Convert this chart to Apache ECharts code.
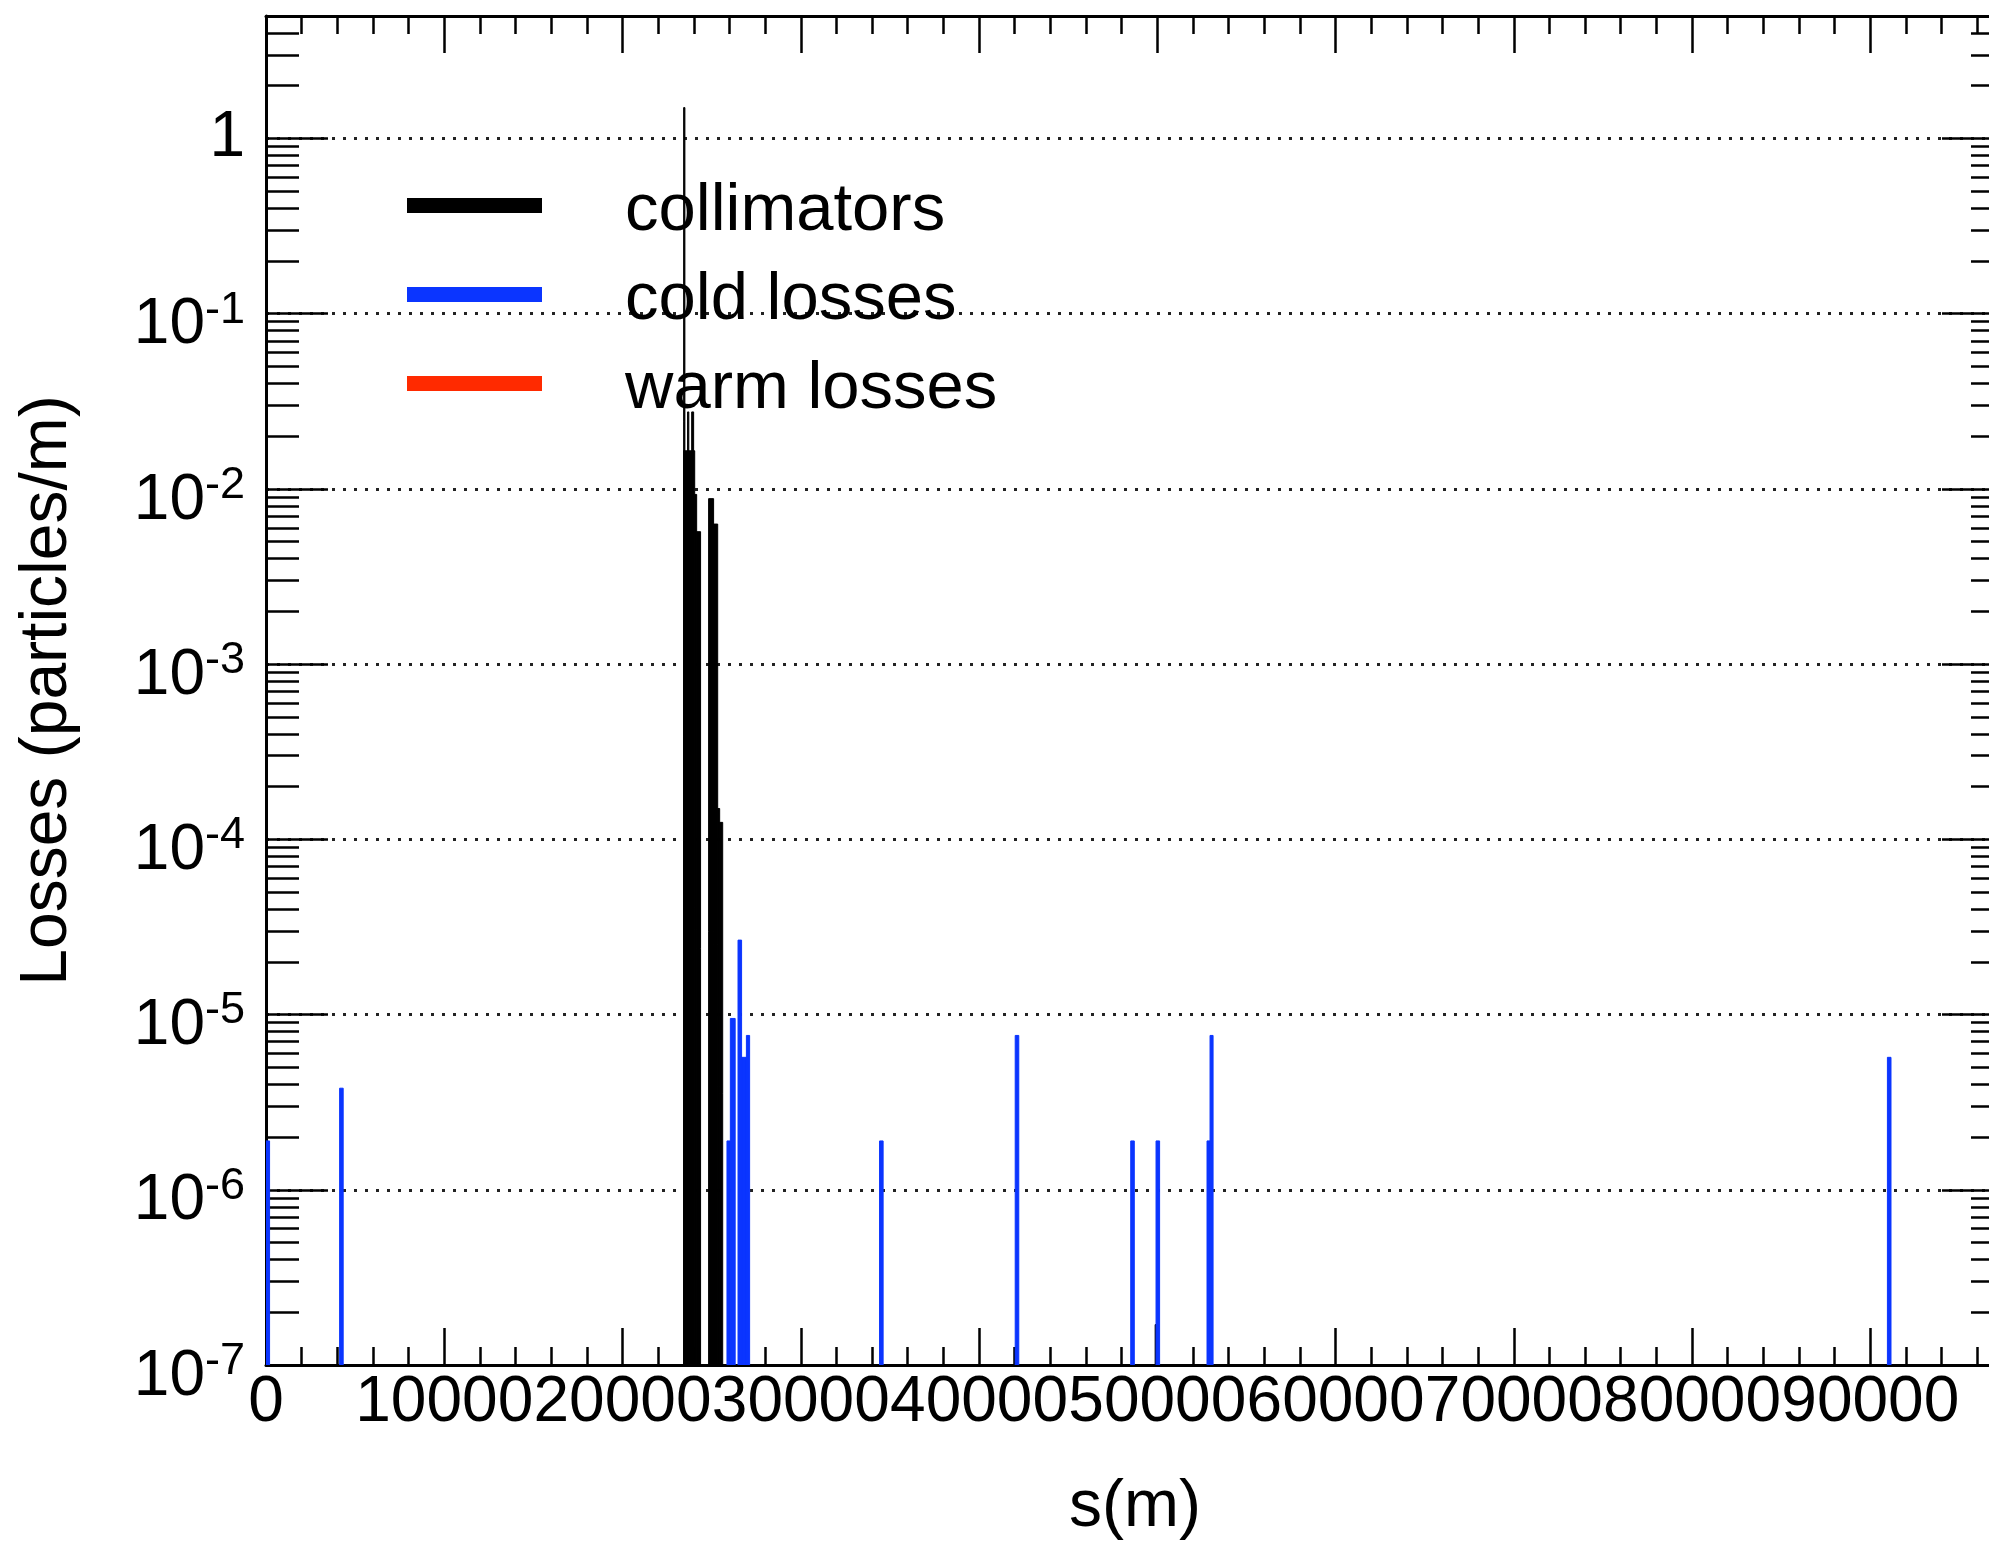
<!DOCTYPE html>
<html>
<head>
<meta charset="utf-8">
<script src="https://cdn.jsdelivr.net/npm/echarts@6/dist/echarts.min.js"></script>
<style>
  html, body { margin: 0; padding: 0; background: #ffffff; }
  #chart { width: 1989px; height: 1545px; }
</style>
</head>
<body>
<div id="chart"></div>
<script>
// Beam loss map along the ring: losses per metre in each histogram bin.
// Each bin is given by its start and end position s (m) and its loss value.

const collimatorStart = [23430, 23430, 23650, 23880, 24050, 24160, 24830, 25110, 25340, 25450, 49880];
const collimatorEnd   = [23500, 24050, 23720, 23990, 24160, 24380, 25110, 25340, 25450, 25620, 49940];
const collimatorLoss  = [1.5, 0.0165, 0.0275, 0.0275, 0.0093, 0.0057, 0.0088, 0.0063, 1.5e-4, 1.25e-4, 1.7e-7];

const coldStart = [0, 4130, 25860, 26050, 26480, 26680, 26950, 34420, 42030, 48510, 49930, 52790, 52960, 90960];
const coldEnd   = [200, 4330, 26050, 26320, 26680, 26950, 27130, 34620, 42230, 48710, 50130, 52960, 53130, 91160];
const coldLoss  = [1.9e-6, 3.8e-6, 1.9e-6, 9.5e-6, 2.66e-5, 5.7e-6, 7.6e-6, 1.9e-6, 7.6e-6, 1.9e-6, 1.9e-6, 1.9e-6, 7.6e-6, 5.7e-6];

const warmStart = [];
const warmEnd   = [];
const warmLoss  = [];

const seriesNames = ['collimators', 'cold losses', 'warm losses'];
const seriesColors = ['#000000', '#0b35ff', '#ff2a00'];

const xTickLabels = [0, 10000, 20000, 30000, 40000, 50000, 60000, 70000, 80000, 90000];
const yTickLabels = [1e-7, 1e-6, 1e-5, 1e-4, 1e-3, 1e-2, 1e-1, 1];

const X_MIN = 0, X_MAX = 97500;
const Y_MIN = 1e-7, Y_MAX = 5;

// minor tick positions: every 2000 m on s, 2..9 per decade on the log axis
const xMinorTicks = [];
for (let s = 2000; s < X_MAX; s += 2000) if (s % 10000 !== 0) xMinorTicks.push(s);
const yMinorTicks = [];
yTickLabels.forEach(function (d) {
  for (let k = 2; k <= 9; k++) { const v = k * d; if (v < Y_MAX) yMinorTicks.push(v); }
});

const FONT = 'Liberation Sans, Arial, Helvetica, sans-serif';
const INK = '#000000';

function binData(starts, ends, vals) {
  return starts.map(function (s, i) { return [s, ends[i], vals[i]]; });
}

function histItem(params, api) {
  const top = api.coord([api.value(0), api.value(2)]);
  const bot = api.coord([api.value(1), Y_MIN]);
  return {
    type: 'rect',
    shape: { x: top[0], y: top[1], width: bot[0] - top[0], height: bot[1] - top[1] },
    style: { fill: api.visual('color'), stroke: api.visual('color'), lineWidth: 1 }
  };
}

function histSeries(idx, data) {
  return {
    name: seriesNames[idx],
    type: 'custom',
    xAxisIndex: 0,
    yAxisIndex: 0,
    renderItem: histItem,
    encode: { x: [0, 1], y: 2 },
    color: seriesColors[idx],
    itemStyle: { color: seriesColors[idx] },
    clip: true,
    silent: true,
    data: data
  };
}

const tickLine = { color: INK, width: 2.5 };

function xAxisBase(position, ticks, len, showLine) {
  return {
    type: 'value', position: position, min: X_MIN, max: X_MAX, interval: 10000,
    axisLine: { show: showLine, onZero: false, lineStyle: { color: INK, width: 3 } },
    axisTick: { show: true, inside: true, length: len, customValues: ticks, lineStyle: tickLine },
    axisLabel: { show: false },
    splitLine: { show: false }
  };
}

function yAxisBase(position, ticks, len, showLine) {
  return {
    type: 'log', logBase: 10, position: position, min: Y_MIN, max: Y_MAX,
    axisLine: { show: showLine, onZero: false, lineStyle: { color: INK, width: 3 } },
    axisTick: { show: true, inside: true, length: len, customValues: ticks, lineStyle: tickLine },
    axisLabel: { show: false },
    splitLine: { show: false }
  };
}

const xMain = xAxisBase('bottom', xTickLabels, 37, true);
xMain.axisLabel = {
  show: true, customValues: xTickLabels, margin: 6,
  fontSize: 64, fontFamily: FONT, color: INK,
  formatter: function (v) { return String(v); }
};
xMain.name = 's(m)';
xMain.nameLocation = 'middle';
xMain.nameGap = 110;
xMain.nameTextStyle = { fontSize: 66, fontFamily: FONT, color: INK };

const yMain = yAxisBase('left', yTickLabels, 62, true);
yMain.axisLabel = {
  show: true, customValues: yTickLabels, margin: 21, fontFamily: FONT, color: INK,
  formatter: function (v) {
    const e = Math.round(Math.log10(v));
    if (e === 0) return '{one|1}';
    return '{b|10}{s|' + String(e) + '}';
  },
  rich: {
    one: { fontSize: 64, fontFamily: FONT, color: INK },
    b: { fontSize: 64, lineHeight: 64, padding: [24, 0, 0, 0], fontFamily: FONT, color: INK },
    s: { fontSize: 45, lineHeight: 45, padding: [6, 0, 0, 0], verticalAlign: 'top', fontFamily: FONT, color: INK }
  }
};
yMain.splitLine = { show: true, lineStyle: { color: '#222222', width: 3, type: [3, 8] } };
yMain.name = 'Losses (particles/m)';
yMain.nameLocation = 'middle';
yMain.nameRotate = 90;
yMain.nameGap = 185;
yMain.nameTextStyle = { fontSize: 66, fontFamily: FONT, color: INK };

const option = {
  animation: false,
  backgroundColor: '#ffffff',
  grid: { left: 266, top: 16, width: 1738, height: 1349, containLabel: false, outerBoundsMode: 'none' },
  legend: {
    orient: 'vertical', left: 402, top: 161,
    icon: 'rect', itemWidth: 135, itemHeight: 15, itemGap: 10,
    selectedMode: false,
    formatter: function (name) { return '{t|' + name + '}'; },
    textStyle: {
      fontSize: 67, fontFamily: FONT, color: INK,
      rich: { t: { fontSize: 67, lineHeight: 66, padding: [12, 0, 0, 78], fontFamily: FONT, color: INK } }
    },
    data: seriesNames
  },
  xAxis: [
    xMain,
    xAxisBase('bottom', xMinorTicks, 18, false),
    xAxisBase('top', xTickLabels, 37, true),
    xAxisBase('top', xMinorTicks, 18, false)
  ],
  yAxis: [
    yMain,
    yAxisBase('left', yMinorTicks, 33, false),
    yAxisBase('right', yTickLabels, 62, true),
    yAxisBase('right', yMinorTicks, 33, false)
  ],
  series: [
    histSeries(0, binData(collimatorStart, collimatorEnd, collimatorLoss)),
    histSeries(1, binData(coldStart, coldEnd, coldLoss)),
    histSeries(2, binData(warmStart, warmEnd, warmLoss))
  ]
};

const chart = echarts.init(document.getElementById('chart'), null, { renderer: 'canvas', width: 1989, height: 1545 });
chart.setOption(option);
</script>
</body>
</html>
